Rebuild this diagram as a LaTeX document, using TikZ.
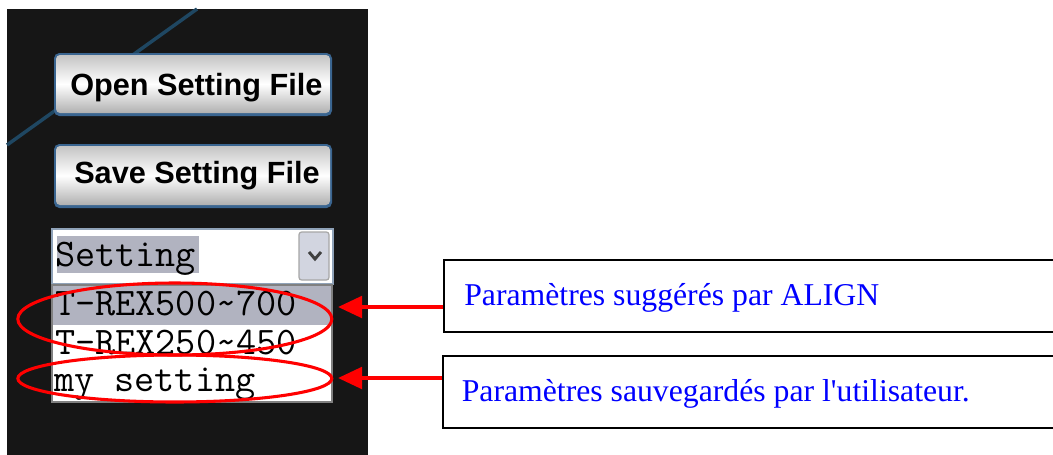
\documentclass[tikz,border=0pt]{standalone}
\usepackage{fontspec}
\setmainfont{Liberation Serif}
\newfontfamily\notefont{Liberation Serif}[Ligatures=TeXOff]
\newfontfamily\btnfont{Liberation Sans}
\usetikzlibrary{arrows.meta}
\definecolor{panelbg}{HTML}{161616}
\definecolor{glare}{HTML}{1F4762}
\definecolor{btnedge}{HTML}{3A6590}
\definecolor{btngrey}{HTML}{C4C4C4}
\definecolor{combobd}{HTML}{8FA2B8}
\definecolor{selgrey}{HTML}{B1B3C0}
\definecolor{dropbtn}{HTML}{D2D5E0}
\definecolor{notered}{HTML}{FF0000}
\definecolor{noteblue}{HTML}{0000FF}
\tikzset{
  btnface/.style={top color=btngrey, bottom color=btngrey!90!black, middle color=white, rounded corners=3pt},
  btntext/.style={anchor=base west, inner sep=0pt, font=\btnfont\bfseries\fontsize{23}{27}\selectfont},
  listtext/.style={anchor=base west, inner sep=0pt, font=\ttfamily\fontsize{29.3}{33}\selectfont},
  ring/.style={draw=notered, line width=2.3pt},
  notebox/.style={draw=black, line width=1.5pt, fill=white, anchor=north west, minimum width=460pt, minimum height=54pt},
  notetext/.style={anchor=base west, inner sep=0pt, text=noteblue, font=\notefont\fontsize{23.8}{28}\selectfont},
  pointer/.style={draw=notered, line width=3pt, -{Triangle[length=18pt,width=16pt]}}
}
\begin{document}
\begin{tikzpicture}[x=0.75pt,y=0.75pt,yscale=-1,xscale=1]
\useasboundingbox (0,0) rectangle (1053,454);

%Shape: Rectangle [panel]
\fill [panelbg] (7,9) rectangle (368,460);
%Straight Lines [glare]
\draw [glare, line width=2.6pt] (7,145) -- (197,9);

%Shape: Button [open]
\fill [btnedge, rounded corners=4pt] (54,53) rectangle (332,116);
\shade [btnface] (56,55) rectangle (330,113);
% Text Node
\node [btntext] (opentxt) at (70,95) {Open Setting File};

%Shape: Button [save]
\fill [btnedge, rounded corners=4pt] (54,144) rectangle (332,208);
\shade [btnface] (56,146) rectangle (330,205);
% Text Node
\node [btntext] (savetxt) at (74,183) {Save Setting File};

%Shape: Combo box
\draw [combobd, fill=white, line width=1.2pt] (52,229) rectangle (333,284);
\fill [selgrey] (57,236) rectangle (199,273);
\draw [gray!70, fill=dropbtn, line width=0.9pt, rounded corners=2pt] (299,232) rectangle (329,280);
\draw [black!75, line width=2.2pt] (309,252) -- (315,259) -- (321,252);
% Text Node
\node [listtext] (combotxt) at (55,266) {Setting};

%Shape: List
\draw [gray, fill=white, line width=1.2pt] (52,285) rectangle (332,402);
\fill [selgrey] (53,286) rectangle (331,325);
% Text Node
\node [listtext] (item1) at (55,315) {T-REX500\char`\~700};
% Text Node
\node [listtext] (item2) at (55,354) {T-REX250\char`\~450};
% Text Node
\node [listtext] (item3) at (54,391) {my setting};

%Shape: Ellipse
\draw [ring] (174.8,319) ellipse [x radius=157, y radius=36];
%Shape: Ellipse
\draw [ring] (174.8,378.5) ellipse [x radius=157, y radius=23.5];

%Shape: Rectangle
\node [notebox] (suggbox) at (443,259) {};
% Text Node
\node [notetext] (suggtxt) at (464,305) {Paramètres suggérés par ALIGN};
%Shape: Rectangle
\node [notebox] (userbox) at (441.5,355) {};
% Text Node
\node [notetext] (usertxt) at (461.5,401.7) {Paramètres sauvegardés par l'utilisateur.};

%Straight Lines
\coordinate (tip1) at (338,307);
\coordinate (tip2) at (338,378);
\draw [pointer] (suggbox.west |- tip1) -- (tip1);
\draw [pointer] (userbox.west |- tip2) -- (tip2);

\end{tikzpicture}
\end{document}
